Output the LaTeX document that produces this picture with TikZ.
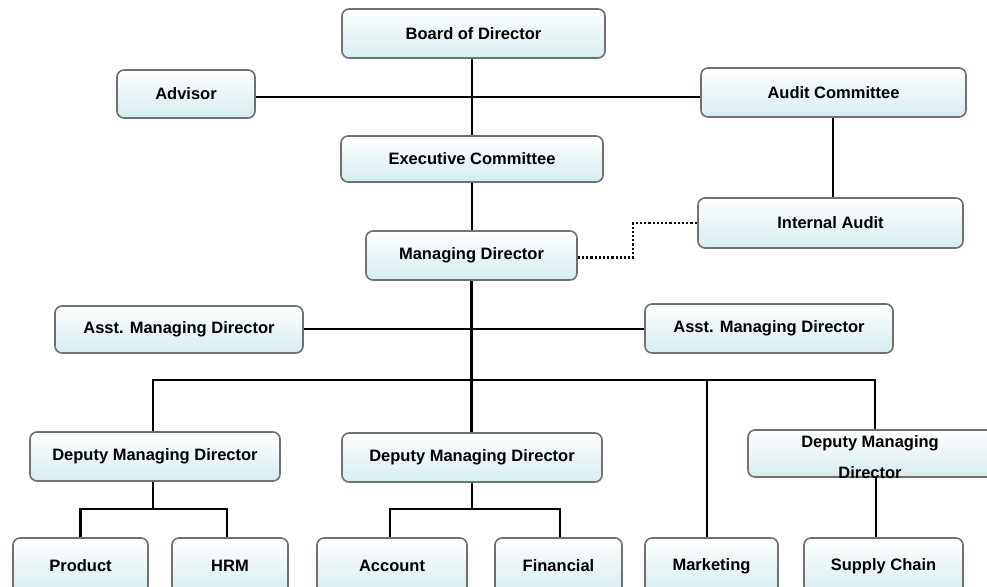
\documentclass[tikz,border=0pt]{standalone}
\usepackage{fontspec}
\setmainfont{Liberation Sans}
\usetikzlibrary{calc}
\definecolor{boxgray}{RGB}{112,112,112}
\definecolor{boxbot}{RGB}{214,236,239}
\begin{document}
\begin{tikzpicture}[x=1pt,y=-1pt,
  box/.style={draw=boxgray,line width=1.6pt,rounded corners=7pt,top color=white,bottom color=boxbot,
    font=\bfseries\fontsize{16.5}{19}\selectfont,align=center,inner sep=0pt,text=black},
  conn/.style={line width=2.8pt,black},
  dotconn/.style={line width=2.2pt,black,dash pattern=on 2.2pt off 2pt},
  lbl/.style={font=\bfseries\fontsize{16.5}{19}\selectfont,inner sep=0pt,text=black}]
\useasboundingbox (0,0) rectangle (987,586);
\clip (0,0) rectangle (987,586);
% nodes
\node[box,minimum width=263pt,minimum height=49pt] (board) at (473.5,33.5) {Board of Director};
\node[box,minimum width=138pt,minimum height=48pt] (advisor) at (186,94) {Advisor};
\node[box,minimum width=265pt,minimum height=49pt] (audit) at (833.5,92.5) {Audit Committee};
\node[box,minimum width=262pt,minimum height=46pt] (exec) at (472,159) {Executive Committee};
\node[box,minimum width=265pt,minimum height=50pt] (internal) at (830.5,223) {Internal Audit};
\node[box,minimum width=211pt,minimum height=49pt] (md) at (471.5,255.5) {Managing Director};
\node[box,minimum width=248pt,minimum height=47pt] (asstL) at (179,329.5) {Asst. Managing Director};
\node[box,minimum width=248pt,minimum height=49pt] (asstR) at (769,328.5) {Asst. Managing Director};
\node[box,minimum width=250pt,minimum height=49pt] (depL) at (155,456.5) {Deputy Managing Director};
\node[box,minimum width=260pt,minimum height=49pt] (depM) at (472,457.5) {Deputy Managing Director};
\node[box,minimum width=260pt,minimum height=47pt] (depR) at (878,453.5) {};
\node[box,minimum width=135pt,minimum height=56pt] (product) at (80.5,566) {Product};
\node[box,minimum width=116pt,minimum height=56pt] (hrm) at (230,566) {HRM};
\node[box,minimum width=150pt,minimum height=56pt] (account) at (392,566) {Account};
\node[box,minimum width=127pt,minimum height=56pt] (financial) at (558.5,566) {Financial};
\node[box,minimum width=133pt,minimum height=56pt] (marketing) at (711.5,566) {Marketing};
\node[box,minimum width=159pt,minimum height=56pt] (supply) at (883.5,566) {Supply Chain};
% coordinates
\coordinate (bus) at (472,380);
\coordinate (bl) at (153,509);
\coordinate (bm) at (475,509);
\coordinate (dotbend) at (633,223);
\coordinate (advA) at ([yshift=-3pt]advisor.east);
\coordinate (mdE) at ([yshift=-2pt]md.east);
\coordinate (asA) at ([yshift=0.5pt]asstL.east);
% connectors
\draw[conn] (exec.north) -- (exec.north |- board.south);
\draw[conn] (advA) -- (advA -| audit.west);
\draw[conn] ([xshift=-0.5pt]audit.south) -- ([xshift=-0.5pt]audit.south |- internal.north);
\draw[conn] (exec.south) -- (exec.south |- md.north);
\draw[dotconn] (mdE) -| (dotbend) -- (internal.west);
\draw[conn] (md.south) -- (md.south |- depM.north);
\draw[conn] (asA) -- (asA -| asstR.west);
\draw[conn] ([xshift=-2pt]depL.north) |- (bus) -| ([xshift=-3pt]depR.north);
\draw[conn] ([xshift=-4.5pt]marketing.north) -- ([xshift=-4.5pt]marketing.north |- bus);
\draw[conn] ([xshift=-2pt]depL.south) -- (bl);
\draw[conn] (product.north) |- (bl) -| ([xshift=-3pt]hrm.north);
\draw[conn] (depM.south) -- (depM.south |- bm);
\draw[conn] ([xshift=-2pt]account.north) |- (bm) -| ([xshift=1.5pt]financial.north);
\draw[conn] ([xshift=-2pt]depR.south) -- ([xshift=-2pt]depR.south |- supply.north);
\node[lbl] (depRt1) at (870,443) {Deputy Managing};
\node[lbl] (depRt2) at (870,473) {Director};
\end{tikzpicture}
\end{document}
